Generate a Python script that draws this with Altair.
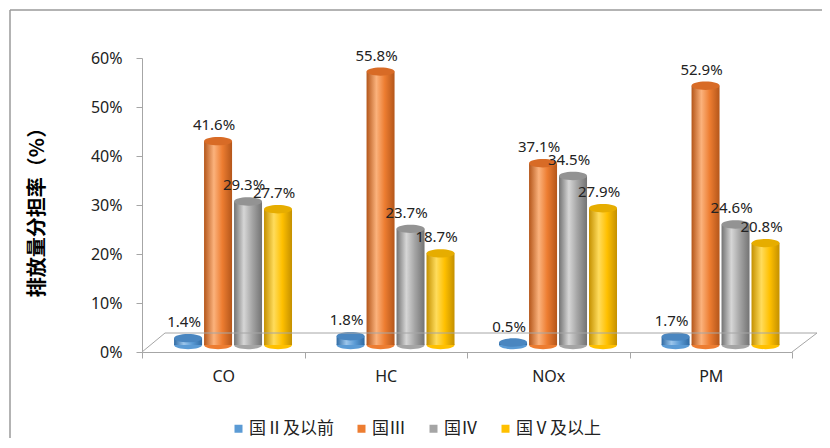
import altair as alt
import pandas as pd

categories = ["CO", "HC", "NOx", "PM"]
series = ["国Ⅱ及以前", "国Ⅲ", "国Ⅳ", "国Ⅴ及以上"]
v_g2 = [1.4, 1.8, 0.5, 1.7]
v_g3 = [41.6, 55.8, 37.1, 52.9]
v_g4 = [29.3, 23.7, 34.5, 24.6]
v_g5 = [27.7, 18.7, 27.9, 20.8]
y_ticks = [0, 10, 20, 30, 40, 50, 60]

values = [v_g2, v_g3, v_g4, v_g5]
rows = []
for s, vals in zip(series, values):
    for c, v in zip(categories, vals):
        rows.append({"category": c, "series": s, "value": v})
df = pd.DataFrame(rows)

base_colors = ["#5B9BD5", "#ED7D31", "#A5A5A5", "#FFC000"]
light_colors = ["#9cc6ec", "#fbb27c", "#d6d6d6", "#ffdc5c"]
dark_colors = ["#2f6aa3", "#b4561a", "#737373", "#c49000"]
top_colors = ["#4a86c0", "#d86b26", "#939393", "#e6ad00"]

W, H = 650, 294
SHIFT = -7
GRAY = "#a6a6a6"
ELLIPSE = "M-1,0A1,0.3,0,1,0,1,0A1,0.3,0,1,0,-1,0Z"
BW = 28

x_enc = alt.X(
    "category:N", sort=categories,
    scale=alt.Scale(paddingInner=0, paddingOuter=0),
    axis=alt.Axis(title=None, labelAngle=0, labelFont="Noto Sans", labelFontSize=16,
                  labelColor="#222222", labelPadding=10, tickBand="extent", tickSize=6,
                  tickColor=GRAY, domainColor=GRAY, grid=False),
)
xo_enc = alt.XOffset(
    "series:N", sort=series,
    scale=alt.Scale(paddingInner=0, paddingOuter=0.71, align=0.73),
)
y_axis = alt.Axis(values=y_ticks, labelExpr="datum.value + '%'", title="排放量分担率（%）",
                  titleFont="Noto Sans CJK SC", titleFontSize=20, titleFontWeight="bold",
                  titleColor="#000000", titleX=-105, titleY=H / 2 + 2, titleAngle=-90,
                  titleAlign="center", titleBaseline="middle",
                  labelFont="Noto Sans", labelFontSize=16, labelColor="#222222",
                  labelPadding=14, tickSize=6, tickColor=GRAY, domainColor=GRAY, grid=False)
y_scale = alt.Scale(domain=[0, 60], nice=False)
y_enc = alt.Y("value:Q", scale=y_scale, axis=y_axis)
y_zero = alt.Y("zero:Q", scale=y_scale, axis=y_axis)

base = alt.Chart(df)

layers = []

# bottom ellipses (carry the legend)
layers.append(
    base.transform_calculate(zero="0").mark_point(
        shape=ELLIPSE, filled=True, size=BW * BW, opacity=1, yOffset=SHIFT
    ).encode(
        x=x_enc, xOffset=xo_enc, y=y_zero,
        color=alt.Color("series:N", sort=series,
                        scale=alt.Scale(domain=series, range=base_colors),
                        legend=alt.Legend(title=None, orient="none", legendX=88, legendY=362,
                                          direction="horizontal", symbolType="square",
                                          symbolSize=64, labelFontSize=17,
                                          labelFont="Noto Sans CJK SC", labelColor="#222222",
                                          columnPadding=19, labelOffset=2,
                                          symbolStrokeWidth=0, padding=0)),
    )
)

for s, bc, lc, dc, tc in zip(series, base_colors, light_colors, dark_colors, top_colors):
    grad = alt.LinearGradient(
        gradient="linear", x1=0, x2=1, y1=0, y2=0,
        stops=[alt.GradientStop(offset=0, color=dc),
               alt.GradientStop(offset=0.35, color=lc),
               alt.GradientStop(offset=0.65, color=bc),
               alt.GradientStop(offset=1, color=dc)],
    )
    sub = base.transform_filter(alt.datum.series == s).transform_calculate(zero="0")
    layers.append(
        sub.mark_bar(width=BW, fill=grad, yOffset=SHIFT, y2Offset=SHIFT).encode(
            x=x_enc, xOffset=xo_enc, y=y_enc, y2="zero:Q"
        )
    )
    layers.append(
        sub.mark_point(shape=ELLIPSE, filled=True, size=BW * BW, opacity=1,
                       color=tc, yOffset=SHIFT).encode(
            x=x_enc, xOffset=xo_enc, y=y_enc
        )
    )

layers.append(
    base.transform_calculate(label="format(datum.value, '.1f') + '%'").mark_text(
        font="Noto Sans", fontSize=15, color="#222222", dx=-4, dy=SHIFT - 16,
        baseline="middle", align="center"
    ).encode(x=x_enc, xOffset=xo_enc, y=y_enc, text="label:N")
)

one = alt.Data(values=[{"a": 1}])
rule_style = dict(color=GRAY, strokeWidth=1)
# 3D floor outline
layers.append(alt.Chart(one).mark_rule(**rule_style).encode(
    x=alt.value(23), x2=alt.value(675), y=alt.value(275), y2=alt.value(275)))
layers.append(alt.Chart(one).mark_rule(**rule_style).encode(
    x=alt.value(0), x2=alt.value(23), y=alt.value(H), y2=alt.value(275)))
layers.append(alt.Chart(one).mark_rule(**rule_style).encode(
    x=alt.value(W), x2=alt.value(675), y=alt.value(H), y2=alt.value(275)))
# outer frame
layers.append(alt.Chart(one).mark_rule(color="#9a9a9a", strokeWidth=1.5).encode(
    x=alt.value(-132), y=alt.value(-48), y2=alt.value(430)))
layers.append(alt.Chart(one).mark_rule(color="#9a9a9a", strokeWidth=1.5).encode(
    x=alt.value(-132), x2=alt.value(700), y=alt.value(-48)))

chart = alt.layer(*layers).properties(
    width=W, height=H,
    autosize=alt.AutoSizeParams(type="none"),
    padding={"left": 134, "top": 50, "right": 30, "bottom": 86},
).configure_view(stroke=None)

chart.save("out.html", embed_options={"renderer": "svg", "actions": False})
